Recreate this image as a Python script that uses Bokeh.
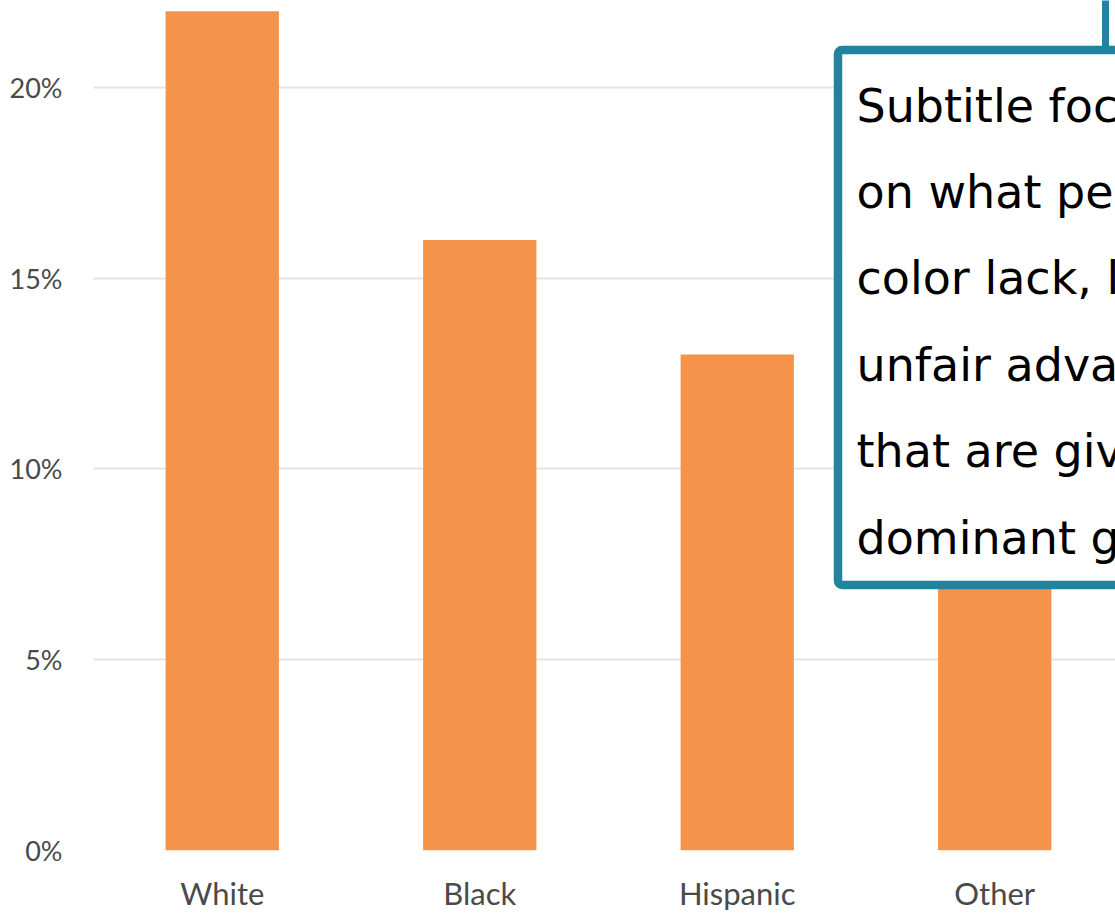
from bokeh.plotting import figure
from bokeh.models import (ColumnDataSource, Range1d, FixedTicker, NumeralTickFormatter,
                          BoxAnnotation, Label)
from bokeh.embed import file_html
from bokeh.resources import INLINE

# Share of each group
groups = ["White", "Black", "Hispanic", "Other"]
shares = [0.22, 0.16, 0.13, 0.08]
y_ticks = [0.0, 0.05, 0.10, 0.15, 0.20]

# Callout text, one entry per line
callout_lines = [
    "Subtitle focusing",
    "on what people of",
    "color lack, like",
    "unfair advantages",
    "that are given to the",
    "dominant group",
]

W, H = 1115, 914
LEFT, BOTTOM = 93, 64
frame_w = W - LEFT
frame_h = H - BOTTOM
step_px = 257.5
x_end = frame_w / step_px
y_end = 0.2228

BAR = "#F5934A"
TEAL = "#22839F"

positions = [i + 0.5 for i in range(len(groups))]
src = ColumnDataSource(dict(x=positions, top=shares, name=groups))

p = figure(width=W, height=H, output_backend="svg", toolbar_location=None,
           x_range=Range1d(0, x_end), y_range=Range1d(0, y_end),
           min_border_left=LEFT, min_border_right=0, min_border_top=0,
           min_border_bottom=BOTTOM)
p.outline_line_color = None
p.background_fill_color = "white"
p.border_fill_color = "white"

p.vbar(x="x", top="top", width=0.44, bottom=0, source=src,
       fill_color=BAR, line_color=None)

# axes
p.xaxis.ticker = FixedTicker(ticks=positions)
p.xaxis.major_label_overrides = {pos: g for pos, g in zip(positions, groups)}
p.yaxis.ticker = FixedTicker(ticks=y_ticks)
p.yaxis.formatter = NumeralTickFormatter(format="0%")
for ax in (p.xaxis[0], p.yaxis[0]):
    ax.axis_line_color = None
    ax.major_tick_line_color = None
    ax.minor_tick_line_color = None
    ax.major_label_text_font = "Lato"
    ax.major_label_text_color = "#4a4a4a"
p.xaxis.major_label_text_font_size = "31px"
p.xaxis.major_label_standoff = 17
p.yaxis.major_label_text_font_size = "27px"
p.yaxis.major_label_standoff = 25

p.xgrid.grid_line_color = None
p.ygrid.grid_line_color = "#e4e4e4"
p.ygrid.grid_line_width = 2


def px_x(px):
    return (px - LEFT) / step_px


def px_y(py):
    return (frame_h - py) / frame_h * y_end


# callout box with connector running up from its top edge
p.add_layout(BoxAnnotation(left=px_x(1101.5), right=px_x(1108.5),
                           bottom=px_y(49), top=px_y(-40),
                           fill_color=TEAL, fill_alpha=1, line_color=None))
p.add_layout(BoxAnnotation(left=px_x(837.5), right=px_x(1250),
                           top=px_y(49.5), bottom=px_y(584.5),
                           fill_color="white", fill_alpha=1,
                           line_color=TEAL, line_width=8.5, line_alpha=1,
                           border_radius=4))

base0, gap = 105, 86.4
for i, line in enumerate(callout_lines):
    p.add_layout(Label(x=px_x(856), y=px_y(base0 + i * gap), text=line,
                       text_font="DejaVu Sans", text_font_size="46px",
                       text_color="black", text_baseline="alphabetic",
                       text_align="left"))

open("out.html", "w").write(file_html(p, INLINE))
